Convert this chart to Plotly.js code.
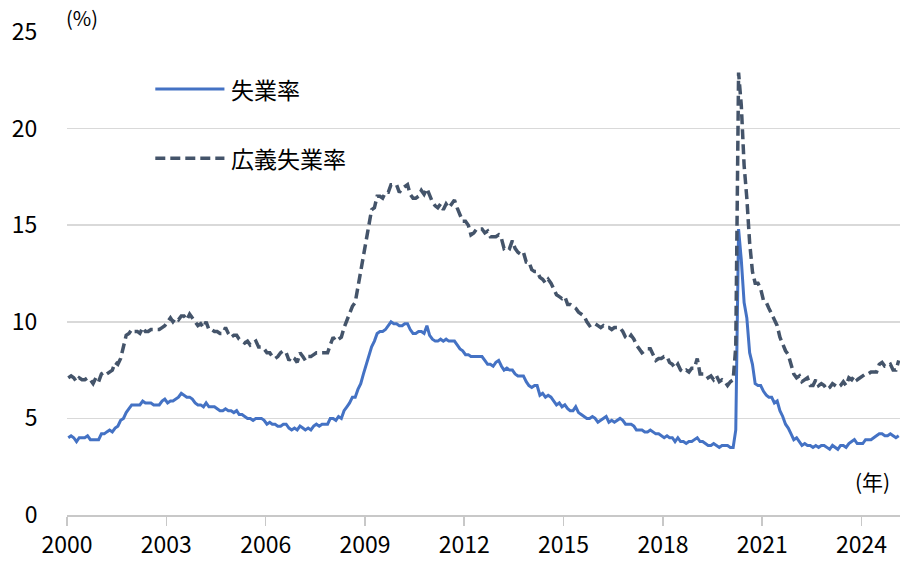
<!DOCTYPE html>
<html>
<head>
<meta charset="utf-8">
<script src="https://cdn.plot.ly/plotly-3.0.1.min.js"></script>
<style>html,body{margin:0;padding:0;background:#fff;}#chart{width:904px;height:562px;}</style>
</head>
<body>
<div id="chart"></div>
<script>
// Monthly data, Jan 2000 - Feb 2025
const startYear = 2000;
const unemployment = [
 4.0,4.1,4.0,3.8,4.0,4.0,4.0,4.1,3.9,3.9,3.9,3.9,
 4.2,4.2,4.3,4.4,4.3,4.5,4.6,4.9,5.0,5.3,5.5,5.7,
 5.7,5.7,5.7,5.9,5.8,5.8,5.8,5.7,5.7,5.7,5.9,6.0,
 5.8,5.9,5.9,6.0,6.1,6.3,6.2,6.1,6.1,6.0,5.8,5.7,
 5.7,5.6,5.8,5.6,5.6,5.6,5.5,5.4,5.4,5.5,5.4,5.4,
 5.3,5.4,5.2,5.2,5.1,5.0,5.0,4.9,5.0,5.0,5.0,4.9,
 4.7,4.8,4.7,4.7,4.6,4.6,4.7,4.7,4.5,4.4,4.5,4.4,
 4.6,4.5,4.4,4.5,4.4,4.6,4.7,4.6,4.7,4.7,4.7,5.0,
 5.0,4.9,5.1,5.0,5.4,5.6,5.8,6.1,6.1,6.5,6.8,7.3,
 7.8,8.3,8.7,9.0,9.4,9.5,9.5,9.6,9.8,10.0,9.9,9.9,
 9.8,9.8,9.9,9.9,9.6,9.4,9.4,9.5,9.5,9.4,9.8,9.3,
 9.1,9.0,9.0,9.1,9.0,9.1,9.0,9.0,9.0,8.8,8.6,8.5,
 8.3,8.3,8.2,8.2,8.2,8.2,8.2,8.0,7.8,7.8,7.7,7.9,
 8.0,7.7,7.5,7.6,7.5,7.5,7.3,7.2,7.2,7.2,6.9,6.7,
 6.6,6.7,6.7,6.2,6.3,6.1,6.2,6.1,5.9,5.7,5.8,5.6,
 5.7,5.5,5.4,5.4,5.6,5.3,5.2,5.1,5.0,5.0,5.1,5.0,
 4.8,4.9,5.0,5.1,4.8,4.9,4.8,4.9,5.0,4.9,4.7,4.7,
 4.7,4.6,4.4,4.4,4.4,4.3,4.3,4.4,4.3,4.2,4.2,4.1,
 4.0,4.1,4.0,4.0,3.8,4.0,3.8,3.8,3.7,3.8,3.8,3.9,
 4.0,3.8,3.8,3.7,3.6,3.6,3.7,3.6,3.5,3.6,3.6,3.6,
 3.5,3.5,4.4,14.8,13.2,11.0,10.2,8.4,7.8,6.8,6.7,6.7,
 6.4,6.2,6.1,6.1,5.8,5.9,5.4,5.1,4.7,4.5,4.2,3.9,
 4.0,3.8,3.6,3.7,3.6,3.6,3.5,3.6,3.5,3.6,3.6,3.5,
 3.4,3.6,3.5,3.4,3.6,3.6,3.5,3.7,3.8,3.9,3.7,3.7,
 3.7,3.9,3.9,3.9,4.0,4.1,4.2,4.2,4.1,4.1,4.2,4.1,
 4.0,4.1
];
const broadUnemployment = [
 7.1,7.2,7.1,6.9,7.1,7.0,7.0,7.1,7.0,6.8,7.1,6.9,
 7.3,7.4,7.3,7.4,7.5,7.9,7.8,8.1,8.7,9.3,9.4,9.6,
 9.5,9.5,9.4,9.7,9.5,9.5,9.6,9.6,9.6,9.6,9.7,9.8,
 10.0,10.2,10.0,10.2,10.1,10.3,10.3,10.1,10.4,10.2,10.0,9.8,
 9.9,9.7,10.0,9.6,9.6,9.5,9.5,9.4,9.4,9.7,9.4,9.2,
 9.3,9.3,9.1,9.0,8.9,9.0,8.8,8.9,9.0,8.7,8.7,8.6,
 8.4,8.4,8.2,8.1,8.2,8.4,8.5,8.4,8.0,8.2,8.1,7.9,
 8.4,8.2,8.0,8.2,8.2,8.3,8.4,8.4,8.4,8.4,8.4,8.8,
 9.2,9.0,9.1,9.2,9.7,10.1,10.5,10.8,11.0,11.8,12.6,13.6,
 14.2,15.2,15.8,15.9,16.5,16.5,16.4,16.7,16.7,17.1,17.1,17.1,
 16.7,16.9,17.0,17.1,16.6,16.4,16.4,16.5,16.8,16.6,16.9,16.6,
 16.2,16.0,15.9,16.1,15.8,16.1,15.9,16.1,16.3,15.9,15.5,15.2,
 15.2,15.0,14.5,14.6,14.8,14.8,14.8,14.6,14.7,14.4,14.4,14.4,
 14.5,14.3,13.8,13.9,13.8,14.2,13.8,13.6,13.5,13.6,13.1,13.1,
 12.7,12.6,12.6,12.3,12.2,12.0,12.2,12.0,11.7,11.4,11.3,11.2,
 11.3,10.9,10.9,10.8,10.7,10.5,10.4,10.3,10.0,9.8,9.9,9.9,
 9.8,9.7,9.8,9.7,9.7,9.6,9.7,9.7,9.7,9.5,9.2,9.1,
 9.3,9.1,8.8,8.6,8.4,8.5,8.6,8.6,8.3,8.0,8.1,8.1,
 8.2,8.2,7.9,7.8,7.6,7.8,7.5,7.4,7.5,7.4,7.6,7.6,
 8.1,7.3,7.3,7.3,7.1,7.2,7.0,7.2,6.9,7.0,6.9,6.7,
 6.9,7.0,8.7,22.9,21.2,18.1,16.4,14.1,12.6,12.0,12.0,11.7,
 11.1,11.0,10.7,10.4,10.2,9.8,9.2,8.8,8.5,8.3,7.8,7.3,
 7.1,7.2,6.9,7.0,7.1,6.7,6.7,7.0,6.7,6.8,6.7,6.5,
 6.6,6.8,6.7,6.6,6.7,6.9,6.7,7.1,7.0,7.2,7.0,7.1,
 7.2,7.3,7.3,7.4,7.4,7.4,7.8,7.9,7.7,7.7,7.8,7.5,
 7.5,8.0
];
const seriesNames = ['失業率', '広義失業率'];
const tickYears = [2000, 2003, 2006, 2009, 2012, 2015, 2018, 2021, 2024];
const yTicks = [0, 5, 10, 15, 20, 25];

const months = unemployment.map((_, i) => {
  const y = startYear + Math.floor(i / 12);
  const m = (i % 12) + 1;
  return y + '-' + String(m).padStart(2, '0') + '-15';
});

const FONT = '"Noto Sans CJK JP", "Noto Sans", sans-serif';
const BLUE = '#4472C4';
const DARK = '#44546A';
const DASH = '10px,5px';

const traces = [
  {x: months, y: unemployment, name: seriesNames[0], type: 'scatter', mode: 'lines',
   line: {color: BLUE, width: 3}, showlegend: false},
  {x: months, y: broadUnemployment, name: seriesNames[1], type: 'scatter', mode: 'lines',
   line: {color: DARK, width: 3.5, dash: DASH}, showlegend: false}
];

const layout = {
  width: 904, height: 562,
  margin: {l: 67, r: 4, t: 32, b: 47},
  paper_bgcolor: '#fff', plot_bgcolor: '#fff',
  font: {family: FONT, size: 22, color: '#000'},
  xaxis: {
    type: 'date',
    range: ['2000-01-01', '2025-03-01'],
    tickvals: tickYears.map(y => y + '-01-01'),
    ticktext: tickYears.map(String),
    ticks: 'outside', ticklen: 9, tickcolor: '#c8c8c8', tickwidth: 1.5,
    showline: true, linecolor: '#c8c8c8', linewidth: 1.5,
    showgrid: false, zeroline: false,
    tickfont: {family: FONT, size: 23, color: '#000'}
  },
  yaxis: {
    range: [0, 25],
    tickvals: yTicks,
    ticks: 'outside', ticklen: 24, tickcolor: 'rgba(0,0,0,0)',
    showgrid: true, gridcolor: '#d9d9d9', gridwidth: 1.5,
    zeroline: false, showline: false,
    tickfont: {family: FONT, size: 23, color: '#000'}
  },
  shapes: [
    {type: 'line', xref: 'paper', yref: 'paper', x0: 0.106, x1: 0.189, y0: 0.882, y1: 0.882,
     line: {color: BLUE, width: 3}},
    {type: 'line', xref: 'paper', yref: 'paper', x0: 0.106, x1: 0.189, y0: 0.7385, y1: 0.7385,
     line: {color: DARK, width: 3.5, dash: DASH}}
  ],
  annotations: [
    {xref: 'paper', yref: 'paper', x: 0.195, y: 0.882, xanchor: 'left', yanchor: 'middle',
     text: seriesNames[0], showarrow: false, font: {family: FONT, size: 23, color: '#000'}},
    {xref: 'paper', yref: 'paper', x: 0.195, y: 0.7385, xanchor: 'left', yanchor: 'middle',
     text: seriesNames[1], showarrow: false, font: {family: FONT, size: 23, color: '#000'}},
    {xref: 'paper', yref: 'paper', x: -0.004, y: 1.029, xanchor: 'left', yanchor: 'middle',
     text: '(%)', showarrow: false, font: {family: FONT, size: 20, color: '#000'}},
    {xref: 'paper', yref: 'paper', x: 0.99, y: 0.07, xanchor: 'right', yanchor: 'middle',
     text: '(年)', showarrow: false, font: {family: FONT, size: 21, color: '#000'}}
  ]
};

Plotly.newPlot('chart', traces, layout, {displayModeBar: false, staticPlot: true});
</script>
</body>
</html>
